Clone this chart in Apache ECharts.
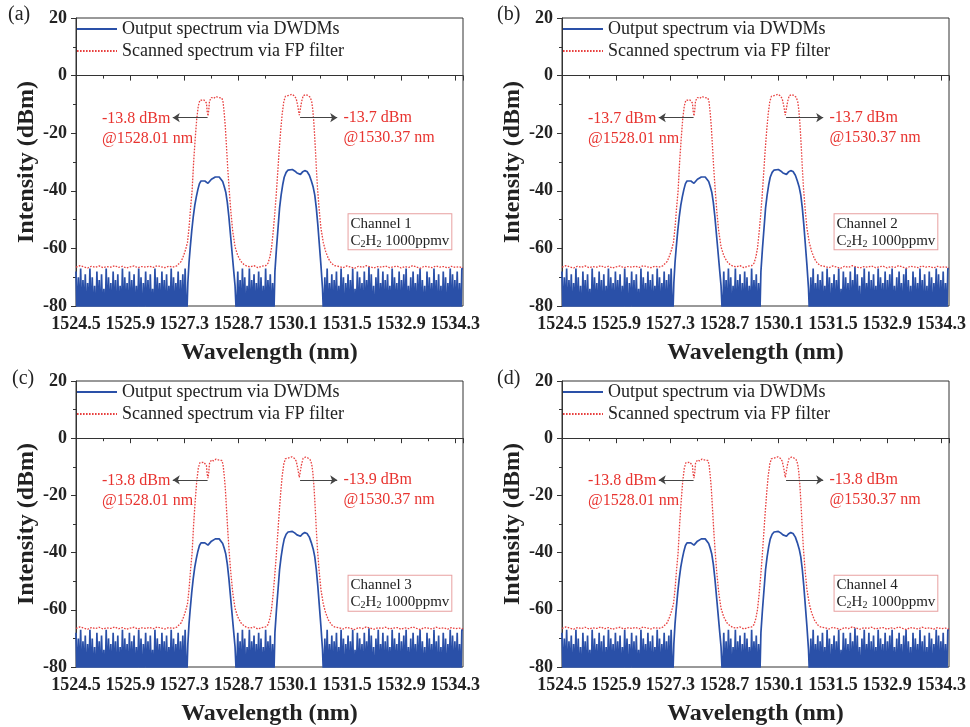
<!DOCTYPE html>
<html>
<head>
<meta charset="utf-8">
<script src="https://cdn.jsdelivr.net/npm/echarts@6/dist/echarts.min.js"></script>
<style>html,body{margin:0;padding:0;background:#fff}#c{width:970px;height:727px}</style>
</head>
<body>
<div id="c"></div>
<script>
// ---------------- DATA ----------------
const X0 = 1524.5;                 // wavelength axis start (nm)
const XTICK_STEP = 1.4;
const NOISE_STEP = 0.03;           // sampling step of the DWDM noise floor (nm)
const RED_FLOOR_STEP = 0.1;        // sampling step of the FP floor (nm)

// Output spectrum via DWDMs (blue): noise floor segments (dBm); dips fall below the -80 axis floor
const blueNoiseLeftStart = 1524.50;
const blueNoiseLeft = [
  -68,-85,-70,-84,-67,-86,-71,-83,-69,-87,
  -72,-84,-67,-86,-70,-85,-73,-88,-68,-83,
  -71,-86,-69,-84,-74,-87,-67,-85,-70,-83,
  -72,-86,-68,-84,-71,-88,-69,-85,-73,-84,
  -67,-86,-70,-83,-72,-87,-68,-85,-71,-84,
  -69,-86,-73,-85,-67,-84,-70,-88,-72,-83,
  -68,-85,-71,-86,-69,-84,-74,-87,-67,-85,
  -70,-83,-72,-86,-68,-84,-71,-87,-69,-85,
  -73,-84,-67,-86,-70,-85,-72,-83,-68,-87,
  -71,-85,-69,-86,-67,-84
];
const blueNoiseMidStart = 1528.68;
const blueNoiseMid = [
  -68,-85,-71,-87,-67,-84,-70,-86,-73,-84,
  -67,-88,-71,-83,-69,-86,-72,-85,-68,-87,
  -70,-84,-73,-86,-67,-85,-71,-83,-69,-86,-72
];
const blueNoiseRightStart = 1530.93;
const blueNoiseRight = [
  -70,-85,-67,-86,-72,-84,-69,-87,-71,-83,
  -68,-86,-73,-85,-67,-84,-70,-88,-72,-83,
  -69,-86,-71,-85,-67,-87,-74,-84,-68,-86,
  -70,-83,-72,-87,-68,-85,-71,-84,-66.5,-86,
  -69,-85,-73,-88,-70,-84,-67,-86,-72,-83,
  -68,-87,-71,-85,-69,-84,-73,-86,-67,-85,
  -70,-83,-72,-86,-68,-88,-71,-84,-69,-85,
  -67,-86,-73,-84,-70,-87,-68,-83,-72,-86,
  -69,-85,-67,-86,-71,-84,-73,-87,-68,-85,
  -70,-83,-72,-86,-67,-84,-71,-88,-69,-85,
  -73,-86,-68,-84,-70,-87,-72,-83,-67,-86,
  -69,-85,-71,-84,-68,-86,-72,-87,-67,-67
];
// blue channel peaks [nm, dBm]
const bluePeak1 = [
  [1527.36,-85],[1527.39,-72],[1527.42,-65],[1527.45,-60],[1527.49,-54],[1527.53,-49],
  [1527.57,-45],[1527.61,-42],[1527.65,-39.5],[1527.69,-37.5],[1527.73,-36.6],[1527.78,-36.3],
  [1527.83,-36.6],[1527.87,-37.2],[1527.91,-37.4],[1527.95,-37.0],[1528.00,-36.0],[1528.05,-35.5],
  [1528.10,-35.2],[1528.15,-35.1],[1528.20,-35.2],[1528.25,-35.7],[1528.29,-36.8],[1528.33,-38.5],
  [1528.37,-40.5],[1528.41,-44],[1528.45,-49],[1528.49,-55],[1528.53,-61],[1528.57,-67],
  [1528.61,-73],[1528.65,-85]
];
const bluePeak2 = [
  [1529.61,-85],[1529.64,-68],[1529.68,-60],[1529.72,-53],[1529.76,-46],[1529.80,-41.5],
  [1529.84,-38],[1529.88,-35.3],[1529.93,-33.6],[1529.98,-32.8],[1530.03,-32.5],[1530.09,-32.6],
  [1530.15,-33.1],[1530.21,-33.8],[1530.26,-34.4],[1530.30,-34.3],[1530.35,-33.5],[1530.41,-33.0],
  [1530.47,-33.3],[1530.53,-34.6],[1530.58,-36.5],[1530.63,-38.8],[1530.67,-41.5],[1530.71,-46],
  [1530.75,-52],[1530.79,-59],[1530.83,-66],[1530.87,-74],[1530.90,-85]
];

// Scanned spectrum via FP filter (red)
const redFloorLeftStart = 1524.5;
const redFloorLeft = [
  -66.5,-66.0,-66.4,-66.8,-66.2,-66.6,-66.1,-66.7,-66.3,-66.5,
  -66.0,-66.6,-66.2,-66.8,-66.4,-66.1,-66.7,-66.3,-66.5,-66.2,
  -66.6,-66.0,-66.4,-66.7,-66.2,-66.5,-66.1
];
const redPeak1 = [
  [1527.15,-65.8],[1527.22,-64.5],[1527.28,-62.5],[1527.33,-60.5],[1527.38,-58],[1527.42,-53],
  [1527.46,-46],[1527.50,-40],[1527.54,-30],[1527.58,-22],[1527.62,-15],[1527.66,-10.5],
  [1527.70,-8.6],[1527.75,-8.1],[1527.80,-8.4],[1527.84,-8.0],[1527.87,-9.5],[1527.89,-12.5],
  [1527.91,-14.0],[1527.93,-12.0],[1527.95,-8.8],[1528.00,-7.6],[1528.06,-7.9],[1528.12,-7.3],
  [1528.18,-7.6],[1528.23,-7.2],[1528.27,-7.8],[1528.30,-9.2],[1528.33,-13],[1528.36,-18],
  [1528.39,-25],[1528.42,-32],[1528.46,-40],[1528.50,-47],[1528.55,-54],[1528.61,-59.5],
  [1528.68,-62.5],[1528.76,-64.5],[1528.84,-65.6],[1528.92,-66.2]
];
const redFloorMidStart = 1529.0;
const redFloorMid = [-66.4,-66.0,-66.7,-66.2];
const redPeak2 = [
  [1529.40,-66.0],[1529.46,-65.2],[1529.51,-63],[1529.55,-60],[1529.59,-55],[1529.63,-49],
  [1529.67,-42],[1529.71,-34],[1529.75,-26],[1529.79,-19],[1529.83,-13],[1529.87,-9],
  [1529.91,-7.2],[1529.96,-6.6],[1530.02,-6.8],[1530.08,-6.5],[1530.14,-7.0],[1530.19,-8],
  [1530.23,-10.5],[1530.27,-13.7],[1530.30,-13.5],[1530.33,-9],[1530.37,-7.0],[1530.43,-6.6],
  [1530.49,-6.9],[1530.55,-7.5],[1530.59,-9],[1530.62,-12],[1530.65,-17],[1530.68,-24],
  [1530.71,-32],[1530.74,-39],[1530.78,-46],[1530.83,-53],[1530.89,-58],[1530.95,-61],
  [1531.02,-63.5],[1531.10,-65.2],[1531.18,-66.0]
];
const redFloorRightStart = 1531.3;
const redFloorRight = [
  -66.3,-66.7,-66.1,-66.5,-66.9,-66.2,-66.6,-66.0,-66.4,-66.8,
  -66.3,-66.5,-66.1,-66.7,-66.4,-66.2,-66.8,-66.3,-66.6,-66.0,
  -66.5,-66.9,-66.2,-66.4,-66.7,-66.1,-66.5,-66.3,-66.8,-66.2,
  -66.6,-66.4,-66.7
];

// Per-panel annotation text
const panelLetters = ['(a)', '(b)', '(c)', '(d)'];
const channelNames = ['Channel 1', 'Channel 2', 'Channel 3', 'Channel 4'];
const leftPeakPower = ['-13.8', '-13.7', '-13.8', '-13.8'];
const rightPeakPower = ['-13.7', '-13.7', '-13.9', '-13.8'];
const leftPeakWl = '1528.01';
const rightPeakWl = '1530.37';
const gasLabel = '1000ppmv';
const seriesNames = ['Output spectrum via DWDMs', 'Scanned spectrum via FP filter'];

// ---------------- BUILD ----------------
function X(nm) { return +(nm - X0).toFixed(4); }
function sampled(start, step, arr) { return arr.map((v, i) => [X(start + i * step), v]); }
function pairs(arr) { return arr.map(p => [X(p[0]), p[1]]); }

const blueData = [].concat(
  sampled(blueNoiseLeftStart, NOISE_STEP, blueNoiseLeft),
  pairs(bluePeak1),
  sampled(blueNoiseMidStart, NOISE_STEP, blueNoiseMid),
  pairs(bluePeak2),
  sampled(blueNoiseRightStart, NOISE_STEP, blueNoiseRight)
);
const redData = [].concat(
  sampled(redFloorLeftStart, RED_FLOOR_STEP, redFloorLeft),
  pairs(redPeak1),
  sampled(redFloorMidStart, RED_FLOOR_STEP, redFloorMid),
  pairs(redPeak2),
  sampled(redFloorRightStart, RED_FLOOR_STEP, redFloorRight)
);

const FONT = "'Liberation Serif','Times New Roman',serif";
const BLUE = '#2a50a8';
const RED = '#e8403f';
const TXTRED = '#e8332f';
const DARK = '#222';

const layouts = [
  { left: 76, top: 18 }, { left: 562, top: 18 },
  { left: 76, top: 381 }, { left: 562, top: 381 }
];
const letterPos = [[8, 5], [497, 5], [12, 369], [497, 369]];

const grids = [], xAxes = [], yAxes = [], series = [], legends = [], graphics = [];
layouts.forEach((L, i) => {
  grids.push({ left: L.left, top: L.top, width: 387, height: 288, show: true,
    borderColor: '#333', borderWidth: 1, backgroundColor: 'transparent' });
  xAxes.push({
    type: 'value', gridIndex: i, min: 0, max: 10, interval: XTICK_STEP,
    name: 'Wavelength (nm)', nameLocation: 'middle', nameGap: 35,
    nameTextStyle: { fontFamily: FONT, fontSize: 24, fontWeight: 'bold', color: DARK },
    axisLine: { show: true, lineStyle: { color: '#333', width: 1 } },
    axisTick: { show: true, length: 5, lineStyle: { color: '#333' } },
    minorTick: { show: true, splitNumber: 2, length: 3, lineStyle: { color: '#333' } },
    splitLine: { show: false },
    axisLabel: { margin: 9, fontFamily: FONT, fontSize: 18, fontWeight: 'bold', color: DARK,
      showMaxLabel: false,
      formatter: v => (v > 9.85 ? '' : (v + X0).toFixed(1)) }
  });
  yAxes.push({
    type: 'value', gridIndex: i, min: -80, max: 20, interval: 20,
    name: 'Intensity (dBm)', nameLocation: 'middle', nameGap: 36,
    nameTextStyle: { fontFamily: FONT, fontSize: 24, fontWeight: 'bold', color: DARK },
    axisLine: { show: true, lineStyle: { color: '#333', width: 1 } },
    axisTick: { show: true, length: 5, lineStyle: { color: '#333' } },
    minorTick: { show: true, splitNumber: 2, length: 3, lineStyle: { color: '#333' } },
    splitLine: { show: false },
    axisLabel: { margin: 9, fontFamily: FONT, fontSize: 18, fontWeight: 'bold', color: DARK }
  });
  series.push({
    type: 'line', name: seriesNames[0], xAxisIndex: i, yAxisIndex: i, data: blueData,
    symbol: 'none', showSymbol: false, clip: true, silent: true, animation: false,
    lineStyle: { color: BLUE, width: 1.7 }, itemStyle: { color: BLUE }, z: 2
  });
  series.push({
    type: 'line', name: seriesNames[1], xAxisIndex: i, yAxisIndex: i, data: redData,
    symbol: 'none', showSymbol: false, clip: true, silent: true, animation: false,
    lineStyle: { color: RED, width: 1.3, type: [1.6, 1.4] }, itemStyle: { color: RED }, z: 3,
    markLine: {
      silent: true, animation: false, symbol: ['none', 'arrow'], symbolSize: 7,
      label: { show: false },
      lineStyle: { color: '#444', width: 1, type: 'solid' },
      data: [
        [{ coord: [X(1527.90), -14.6] }, { coord: [X(1527.00), -14.6] }],
        [{ coord: [X(1530.29), -14.6] }, { coord: [X(1531.25), -14.6] }]
      ]
    },
    markPoint: {
      silent: true, animation: false, symbol: 'circle', symbolSize: 1,
      itemStyle: { color: 'rgba(0,0,0,0)' },
      data: [
        { coord: [X(1525.16), -18.5],
          label: { show: true, position: 'right', distance: 0, align: 'left',
            formatter: leftPeakPower[i] + ' dBm\n@' + leftPeakWl + ' nm',
            fontFamily: FONT, fontSize: 16, lineHeight: 20, color: TXTRED } },
        { coord: [X(1531.40), -18.0],
          label: { show: true, position: 'right', distance: 0, align: 'left',
            formatter: rightPeakPower[i] + ' dBm\n@' + rightPeakWl + ' nm',
            fontFamily: FONT, fontSize: 16, lineHeight: 20, color: TXTRED } },
        { coord: [X(1531.53), -54.2],
          label: { show: true, position: 'right', distance: 0, align: 'left',
            formatter: '{n|' + channelNames[i] + '}\n{n|C}{s|2}{n|H}{s|2}{n| ' + gasLabel + '}',
            backgroundColor: '#fff', borderColor: '#e8a0a0', borderWidth: 1,
            padding: [1, 2, 0, 2],
            rich: {
              n: { fontFamily: FONT, fontSize: 15, lineHeight: 17, color: DARK },
              s: { fontFamily: FONT, fontSize: 10, lineHeight: 17, color: DARK, verticalAlign: 'bottom' }
            } } }
      ]
    }
  });
  legends.push({
    left: L.left, top: L.top + 2, orient: 'vertical', padding: 0,
    itemWidth: 40, itemHeight: 14, itemGap: 4, selectedMode: false,
    itemStyle: { opacity: 0 },
    textStyle: { fontFamily: FONT, fontSize: 18, color: DARK },
    data: seriesNames
  });
  graphics.push({ type: 'text', left: letterPos[i][0], top: letterPos[i][1],
    style: { text: panelLetters[i], font: '20px ' + FONT, fill: DARK } });
});

const chart = echarts.init(document.getElementById('c'), null, { renderer: 'canvas' });
chart.setOption({
  animation: false,
  backgroundColor: '#fff',
  grid: grids, xAxis: xAxes, yAxis: yAxes, series: series, legend: legends, graphic: graphics
});
</script>
</body>
</html>
